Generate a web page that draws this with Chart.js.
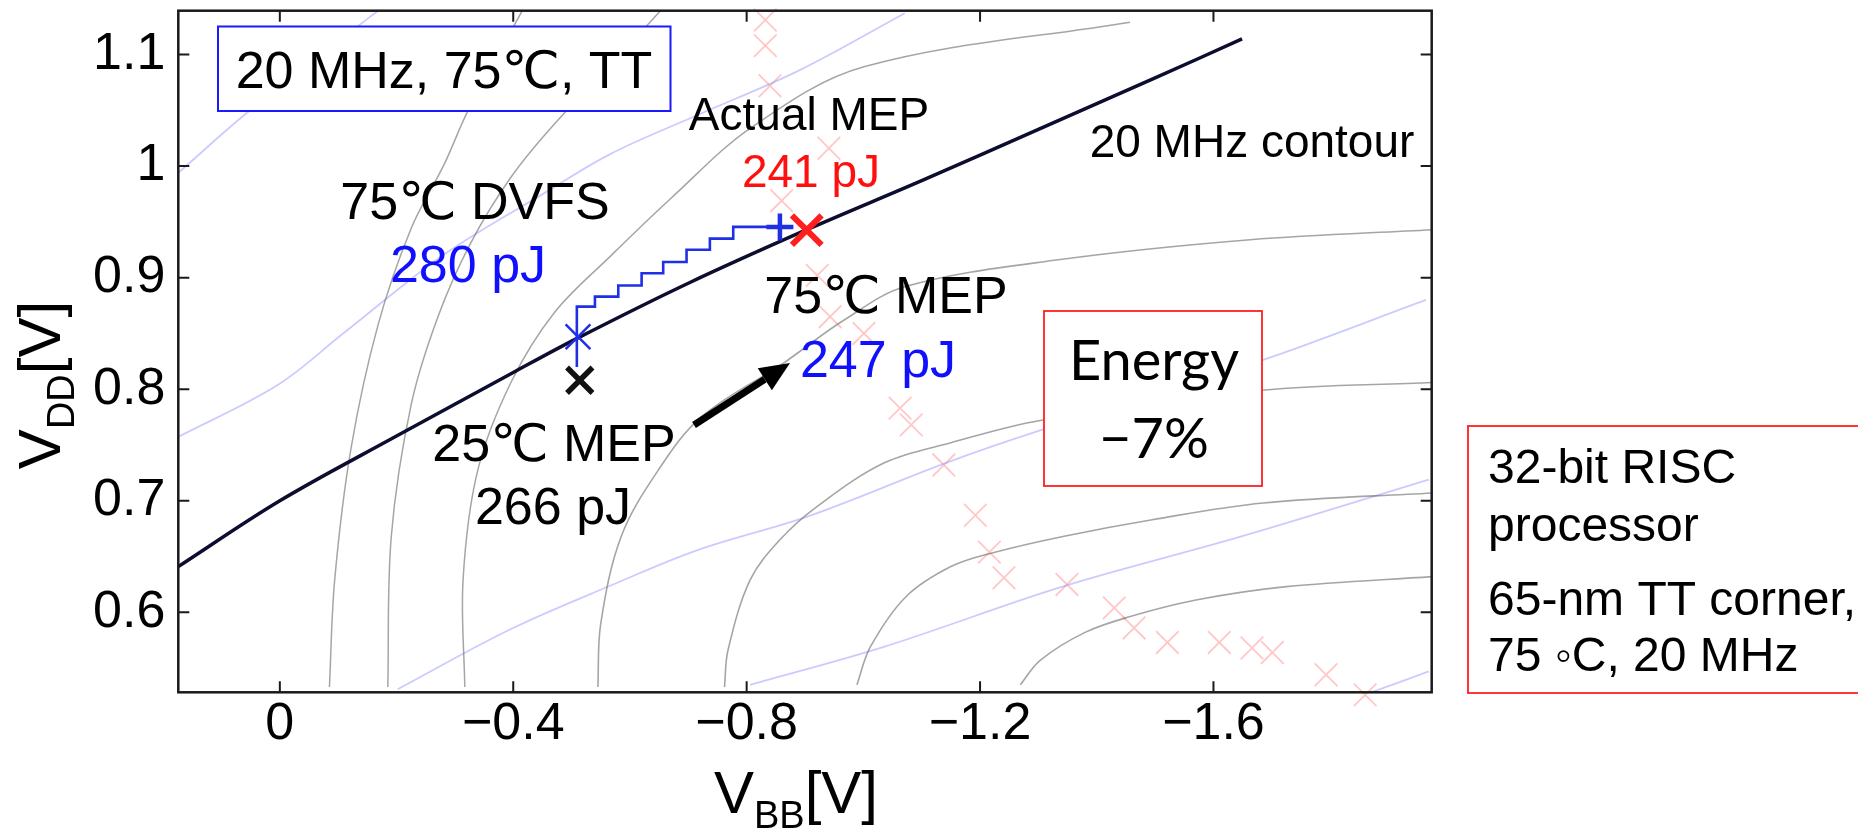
<!DOCTYPE html>
<html>
<head>
<meta charset="utf-8">
<script src="https://cdn.jsdelivr.net/npm/chart.js@4.4.1/dist/chart.umd.min.js"></script>
<style>
  html, body { margin: 0; padding: 0; background: #fff; }
  #wrap { position: relative; width: 1858px; height: 832px; }
</style>
</head>
<body>
<div id="wrap"><canvas id="chartCanvas"></canvas></div>
<script>
// tick values, V_BB on x (reversed), V_DD on y
const xTicks = [0, -0.4, -0.8, -1.2, -1.6];
const yTicks = [0.6, 0.7, 0.8, 0.9, 1, 1.1];

// 20 MHz iso-frequency contour (the thick dark one)
const contour20MHz = [[0.174,0.641],[0,0.700],[-0.2,0.758],[-0.4,0.815],[-0.511,0.846],[-0.7,0.895],
  [-0.903,0.943],[-1.1,0.987],[-1.3,1.033],[-1.5,1.079],[-1.649,1.114]];

// energy contours (grey)
const energyC1 = [[-0.085,0.533],[-0.094,0.629],[-0.122,0.747],[-0.168,0.857],[-0.225,0.944],[-0.282,1.002],[-0.322,1.049],[-0.415,1.139]];
const energyC2 = [[-0.185,0.533],[-0.191,0.668],[-0.225,0.786],[-0.271,0.865],[-0.327,0.931],[-0.396,0.990],[-0.471,1.038],[-0.638,1.131],[-0.652,1.139]];
const energyC3 = [[-0.317,0.533],[-0.314,0.629],[-0.339,0.727],[-0.396,0.806],[-0.471,0.869],[-0.568,0.920],[-0.670,0.971],[-0.809,1.035],[-1.001,1.089],[-1.457,1.129]];
const energyC4 = [[-0.545,0.533],[-0.550,0.590],[-0.585,0.668],[-0.648,0.727],[-0.722,0.775],[-0.862,0.823],[-0.967,0.862],[-1.072,0.892],[-1.334,0.916],[-1.663,0.934],[-1.975,0.943]];
const energyC5 = [[-0.762,0.533],[-0.768,0.566],[-0.806,0.629],[-0.857,0.665],[-0.921,0.695],[-1.036,0.734],[-1.150,0.752],[-1.303,0.772],[-1.682,0.799],[-1.975,0.806]];
const energyC6 = [[-0.989,0.535],[-1.012,0.569],[-1.073,0.614],[-1.150,0.641],[-1.219,0.653],[-1.342,0.668],[-1.495,0.683],[-1.685,0.698],[-1.975,0.707]];
const energyC7 = [[-1.269,0.535],[-1.303,0.557],[-1.380,0.582],[-1.456,0.596],[-1.570,0.611],[-1.725,0.623],[-1.975,0.632]];

// other frequency contours (faint blue)
const freqF1 = [[0.174,0.994],[0.051,1.050],[-0.155,1.134],[-0.168,1.139]];
const freqF2 = [[0.175,0.757],[0.003,0.804],[-0.111,0.851],[-0.282,0.921],[-0.454,0.976],[-0.567,1.011],[-0.717,1.046],[-0.891,1.086],[-1.071,1.137]];
const freqF3 = [[-0.202,0.531],[-0.396,0.585],[-0.567,0.624],[-0.717,0.656],[-0.905,0.686],[-1.142,0.734],[-1.303,0.763],[-1.684,0.826],[-1.964,0.880]];
const freqF4 = [[-0.806,0.535],[-1.035,0.569],[-1.341,0.623],[-1.648,0.668],[-1.969,0.719]];
const freqF5 = [[-1.869,0.528],[-1.969,0.547]];

// MEP locus for other conditions (faint red crosses)
const mepLocus = [[-0.832,1.131],[-0.832,1.108],[-0.840,1.072],[-0.941,1.016],[-0.860,0.969],[-0.921,0.902],
  [-0.943,0.865],[-1.001,0.850],[-1.063,0.783],[-1.082,0.768],[-1.138,0.732],[-1.192,0.687],[-1.216,0.654],
  [-1.241,0.631],[-1.349,0.625],[-1.430,0.604],[-1.464,0.586],[-1.521,0.573],[-1.610,0.573],[-1.666,0.568],
  [-1.701,0.564],[-1.793,0.544],[-1.860,0.526]];

// 75 C DVFS path (staircase)
const dvfsPath = [[-0.509,0.820],[-0.509,0.865],[-0.540,0.874],[-0.580,0.883],[-0.620,0.893],[-0.657,0.904],
  [-0.697,0.914],[-0.737,0.925],[-0.777,0.935],[-0.823,0.9455],[-0.860,0.9455]];

const mep25 = [[-0.514, 0.808]];
const dvfsStart = [[-0.511, 0.847]];
const dvfsEnd = [[-0.857, 0.9455]];
const actualMep = [[-0.903, 0.9426]];

const FONT = '"Liberation Sans", Arial, "DejaVu Sans", sans-serif';
const pts = arr => arr.map(([x, y]) => ({ x, y }));
const fmt = v => (Math.abs(v) < 1e-9 ? '0' : String(+v.toFixed(2)).replace('-', '\u2212'));

function lineSet(data, color, width) {
  return { data: pts(data), showLine: true, borderColor: color, borderWidth: width, pointRadius: 0, fill: false, tension: 0.35 };
}
function markSet(data, style, radius, color, width) {
  return { data: pts(data), showLine: false, pointStyle: style, pointRadius: radius, borderColor: color,
    backgroundColor: color, pointBorderWidth: width, borderWidth: width, clip: false };
}

const grey = 'rgba(110,110,110,0.62)';
const faintBlue = 'rgba(125,125,255,0.4)';

const datasets = [
  markSet(actualMep, 'crossRot', 21, '#ff1f1f', 6),
  markSet(dvfsEnd, 'cross', 13.5, '#1f2fe6', 4.5),
  markSet(dvfsStart, 'crossRot', 17.5, '#1f2fe6', 2.5),
  markSet(mep25, 'crossRot', 18, '#111111', 5.5),
  Object.assign(lineSet(dvfsPath, '#1f2fe6', 2.6), { tension: 0, stepped: 'after' }),
  lineSet(contour20MHz, '#0d0d30', 3.5),
  lineSet(energyC1, grey, 1.5), lineSet(energyC2, grey, 1.5), lineSet(energyC3, grey, 1.5),
  lineSet(energyC4, grey, 1.6), lineSet(energyC5, grey, 1.6), lineSet(energyC6, grey, 1.6),
  lineSet(energyC7, grey, 1.6),
  lineSet(freqF1, faintBlue, 1.8), lineSet(freqF2, faintBlue, 1.8), lineSet(freqF3, faintBlue, 1.8),
  lineSet(freqF4, faintBlue, 1.8), lineSet(freqF5, faintBlue, 1.8),
  markSet(mepLocus, 'crossRot', 16, 'rgba(255,130,130,0.45)', 1.8)
];

// annotation text in canvas pixels: [text, centerX, baseline, size, color]
const labels = [
  ['75\u2103 DVFS', 475, 219, 52, '#000'],
  ['280 pJ', 468, 282, 52, '#1010ff'],
  ['25\u2103 MEP', 554, 461, 52, '#000'],
  ['266 pJ', 553, 524, 52, '#000'],
  ['Actual MEP', 809, 130, 46, '#000'],
  ['241 pJ', 811, 187, 46, '#ff1010'],
  ['20 MHz contour', 1252, 157, 46, '#000'],
  ['75\u2103 MEP', 886, 313, 52, '#000'],
  ['247 pJ', 878, 377, 52, '#1010ff']
];

function drawParts(ctx, parts, cx, baseY) {
  let total = 0;
  parts.forEach(p => { ctx.font = p.size + 'px ' + FONT; p.w = ctx.measureText(p.t).width; total += p.w; });
  let x = cx - total / 2;
  parts.forEach(p => {
    ctx.font = p.size + 'px ' + FONT;
    ctx.fillText(p.t, x, baseY + p.dy);
    x += p.w;
  });
}

const overlay = {
  id: 'overlay',
  afterDatasetsDraw(chart) {
    const ctx = chart.ctx;
    const a = chart.chartArea;
    const xs = chart.scales.x, ys = chart.scales.y;
    ctx.save();

    // axes frame and inward ticks on all sides
    ctx.strokeStyle = '#1a1a1a';
    ctx.lineWidth = 2.5;
    ctx.strokeRect(a.left, a.top, a.right - a.left, a.bottom - a.top);
    ctx.lineWidth = 2;
    ctx.beginPath();
    xTicks.forEach(v => {
      const px = xs.getPixelForValue(v);
      ctx.moveTo(px, a.bottom); ctx.lineTo(px, a.bottom - 11);
      ctx.moveTo(px, a.top); ctx.lineTo(px, a.top + 11);
    });
    yTicks.forEach(v => {
      const py = ys.getPixelForValue(v);
      ctx.moveTo(a.left, py); ctx.lineTo(a.left + 11, py);
      ctx.moveTo(a.right, py); ctx.lineTo(a.right - 11, py);
    });
    ctx.stroke();

    // boxes
    ctx.fillStyle = '#fff';
    ctx.fillRect(218, 26.5, 452.5, 84.5);
    ctx.strokeStyle = '#1a1aff'; ctx.lineWidth = 2;
    ctx.strokeRect(218, 26.5, 452.5, 84.5);

    ctx.fillStyle = '#fff';
    ctx.fillRect(1044, 311, 218, 175);
    ctx.strokeStyle = '#ff2020'; ctx.lineWidth = 1.8;
    ctx.strokeRect(1044, 311, 218, 175);

    ctx.fillStyle = '#fff';
    ctx.fillRect(1468, 426, 400, 267);
    ctx.strokeStyle = '#ff2020'; ctx.lineWidth = 1.8;
    ctx.strokeRect(1468, 426, 400, 267);

    ctx.fillStyle = '#000';
    ctx.textAlign = 'center';
    ctx.textBaseline = 'alphabetic';
    ctx.font = '52px ' + FONT;
    ctx.fillText('20 MHz, 75\u2103, TT', 444, 88);

    ctx.font = '56px Lato, "Open Sans", sans-serif';
    ctx.fillText('Energy', 1154, 380);
    ctx.fillText('\u22127%', 1154, 458);

    labels.forEach(([t, x, y, s, c]) => {
      ctx.font = s + 'px ' + FONT;
      ctx.fillStyle = c;
      ctx.fillText(t, x, y);
    });

    // arrow from the 25 C MEP to the 75 C MEP
    const x0 = 694, y0 = 425, x1 = 790, y1 = 363;
    const ang = Math.atan2(y1 - y0, x1 - x0);
    const hl = 30, hw = 13;
    const bx = x1 - hl * Math.cos(ang), by = y1 - hl * Math.sin(ang);
    ctx.strokeStyle = '#000'; ctx.lineWidth = 7;
    ctx.beginPath(); ctx.moveTo(x0, y0); ctx.lineTo(bx, by); ctx.stroke();
    ctx.fillStyle = '#000';
    ctx.beginPath();
    ctx.moveTo(x1, y1);
    ctx.lineTo(bx + hw * Math.sin(ang), by - hw * Math.cos(ang));
    ctx.lineTo(bx - hw * Math.sin(ang), by + hw * Math.cos(ang));
    ctx.closePath(); ctx.fill();

    // processor note
    ctx.textAlign = 'left';
    ctx.fillStyle = '#000';
    ctx.font = '48px ' + FONT;
    ctx.fillText('32-bit RISC', 1488, 483);
    ctx.fillText('processor', 1488, 541);
    ctx.fillText('65-nm TT corner,', 1488, 615);
    ctx.fillText('75 \u25E6C, 20 MHz', 1488, 671);

    // axis titles with subscripts
    ctx.textAlign = 'left';
    drawParts(ctx, [{ t: 'V', size: 60, dy: 0 }, { t: 'BB', size: 38, dy: 15 }, { t: '[V]', size: 60, dy: 0 }], 796, 813);
    ctx.translate(60, 385);
    ctx.rotate(-Math.PI / 2);
    drawParts(ctx, [{ t: 'V', size: 60, dy: 0 }, { t: 'DD', size: 38, dy: 14 }, { t: '[V]', size: 60, dy: 0 }], 0, 0);

    ctx.restore();
  }
};

new Chart(document.getElementById('chartCanvas').getContext('2d'), {
  type: 'scatter',
  data: { datasets },
  options: {
    responsive: true,
    maintainAspectRatio: false,
    animation: false,
    events: [],
    layout: { autoPadding: false, padding: { top: 10.7, right: 426.3, left: 0, bottom: 0 } },
    plugins: { legend: { display: false }, tooltip: { enabled: false } },
    scales: {
      x: {
        type: 'linear', min: -1.974, max: 0.174, reverse: true,
        afterBuildTicks: s => { s.ticks = xTicks.map(v => ({ value: v })); },
        afterFit: s => { s.height = 139.7; s.paddingLeft = 0; s.paddingRight = 0; },
        grid: { display: false, drawTicks: false },
        border: { display: false },
        ticks: { padding: 1, color: '#000', font: { size: 52, family: FONT }, callback: v => fmt(v), maxRotation: 0 }
      },
      y: {
        type: 'linear', min: 0.5283, max: 1.1393,
        afterBuildTicks: s => { s.ticks = yTicks.map(v => ({ value: v })); },
        afterFit: s => { s.width = 178.3; s.paddingTop = 0; s.paddingBottom = 0; },
        grid: { display: false, drawTicks: false },
        border: { display: false },
        ticks: { padding: 13, color: '#000', font: { size: 52, family: FONT }, callback: v => fmt(v) }
      }
    }
  },
  plugins: [overlay]
});
</script>
</body>
</html>
